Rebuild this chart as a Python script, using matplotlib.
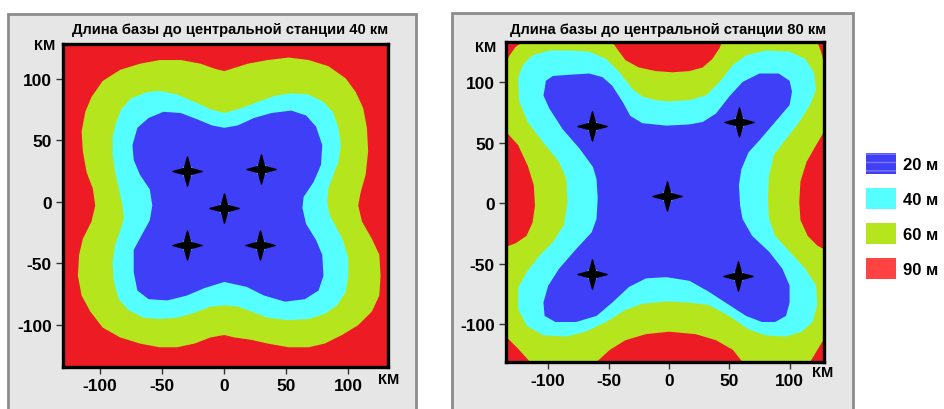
import numpy as np
import matplotlib
matplotlib.use("Agg")
import matplotlib.pyplot as plt
from matplotlib.patches import Rectangle, Patch
from matplotlib.path import Path

plt.rcParams['font.family'] = ['Liberation Sans', 'DejaVu Sans']
plt.rcParams['axes.unicode_minus'] = False

# zone colours and legend labels
zone_labels = ['20 м', '40 м', '60 м', '90 м']
zone_colors = ['#3f3ff8', '#55ffff', '#b5e61d', '#ed1c24']
legend_colors = ['#3f3ff8', '#55ffff', '#b5e61d', '#ff4343']

titles = ['Длина базы до центральной станции 40 км',
          'Длина базы до центральной станции 80 км']
ticks = [-100, -50, 0, 50, 100]

# --- panel 1 (base 40 km): stations and zone boundaries, km ---
p1_st_x = [-30, 30, 0, -30, 29]
p1_st_y = [25, 27, -5, -35, -35]

p1_green = [(0, 106), (19, 112), (35, 115), (52, 117), (68, 115), (84, 110), (98, 100), (106, 89),
            (112, 76), (115, 60), (116, 41), (114, 22), (110, 8), (108, -3), (111, -16), (119, -30),
            (125, -43), (126, -60), (125, -76), (119, -89), (108, -100), (95, -108), (81, -115),
            (68, -118), (52, -118), (35, -115), (22, -112), (8, -110), (0, -108), (-11, -110),
            (-24, -115), (-38, -118), (-52, -118), (-68, -115), (-84, -110), (-98, -102),
            (-108, -89), (-115, -76), (-118, -60), (-117, -43), (-114, -30), (-107, -16),
            (-104, -3), (-106, 11), (-111, 24), (-114, 41), (-115, 57), (-112, 73), (-107, 85),
            (-98, 98), (-84, 107), (-68, 112), (-52, 115), (-35, 115), (-19, 112), (-8, 108)]

p1_cyan = [(-88, 62), (-83, 75), (-75, 84), (-62, 89), (-52, 90), (-38, 87), (-24, 81), (-11, 75),
           (0, 72), (14, 76), (27, 81), (41, 86), (54, 88), (68, 87), (80, 81), (88, 72), (92, 60),
           (94, 46), (92, 32), (88, 22), (84, 11), (83, 0), (85, -11), (91, -22), (96, -32),
           (100, -46), (100, -60), (98, -73), (91, -84), (81, -91), (68, -95), (52, -96), (35, -94),
           (22, -89), (11, -85), (0, -84), (-11, -85), (-24, -90), (-38, -94), (-52, -95),
           (-65, -94), (-77, -88), (-85, -79), (-89, -65), (-90, -49), (-88, -35), (-84, -24),
           (-81, -14), (-82, -3), (-85, 11), (-88, 24), (-90, 38), (-90, 52)]

p1_blue = [(-74, 46), (-70, 60), (-61, 68), (-49, 73), (-35, 72), (-22, 67), (-10, 62), (0, 60),
           (11, 62), (24, 68), (38, 72), (54, 74), (66, 70), (74, 61), (79, 46), (78, 30), (72, 16),
           (64, 4), (63, -5), (66, -18), (74, -31), (79, -43), (80, -60), (76, -72), (65, -79),
           (49, -81), (32, -76), (18, -69), (0, -65), (-16, -70), (-30, -76), (-46, -80),
           (-61, -79), (-70, -72), (-73, -57), (-73, -39), (-66, -26), (-60, -15), (-58, -3),
           (-60, 10), (-68, 22), (-73, 34)]

# --- panel 2 (base 80 km) ---
p2_st_x = [-64, 58, -2, -64, 57]
p2_st_y = [64, 67, 6, -58, -60]

# green zone runs out past the frame where it touches the edges
p2_green = [(-135, 116), (-132, 122), (-127, 129), (-121, 133), (-121, 160), (-47, 160),
            (-47, 133), (-42, 126), (-36, 118), (-25, 112), (-11, 109), (3, 108), (17, 109),
            (28, 112), (36, 119), (42, 128), (44, 133), (44, 160), (123, 160),
            (123, 133), (126, 125), (128.5, 116), (160, 116), (160, 59),
            (128.5, 59), (122, 48), (114, 34), (109, 18), (108, 1), (109, -14), (115, -27),
            (123, -35), (128.5, -38), (160, -38), (160, -112),
            (128.5, -112), (123, -121), (117, -131), (117, -160), (61, -160),
            (61, -131), (53, -121), (39, -113), (22, -108), (0, -106), (-19, -108), (-36, -113),
            (-49, -121), (-60, -131), (-60, -160), (-115, -160),
            (-115, -131), (-125, -120), (-135, -110), (-160, -110), (-160, -36),
            (-135, -36), (-127, -33), (-118, -27), (-113, -16), (-111, -2), (-112, 15),
            (-117, 31), (-125, 48), (-135, 59), (-160, 59), (-160, 116)]

p2_cyan = [(-125, 103), (-121, 114), (-113, 122), (-99, 126), (-82, 126), (-66, 125), (-52, 119),
           (-41, 108), (-30, 94), (-22, 88), (-11, 85), (0, 84), (17, 85), (31, 89), (42, 100),
           (53, 114), (64, 122), (80, 126), (100, 125), (113, 119), (120, 108), (122, 94),
           (117, 81), (108, 67), (97, 53), (87, 40), (83, 23), (82, 4), (83, -13), (88, -27),
           (100, -40), (113, -54), (122, -68), (123, -84), (119, -98), (110, -106), (97, -110),
           (80, -109), (66, -104), (50, -93), (33, -84), (17, -82), (-2, -81), (-22, -83),
           (-36, -88), (-52, -98), (-69, -106), (-85, -110), (-104, -109), (-118, -101),
           (-125, -87), (-125, -70), (-118, -57), (-107, -43), (-96, -32), (-87, -18), (-84, 1),
           (-85, 20), (-91, 34), (-104, 50), (-117, 67), (-124, 84)]

p2_blue = [(-103, 94), (-102, 101), (-96, 105), (-82, 106), (-66, 107), (-55, 104), (-47, 97),
           (-38, 83), (-32, 72), (-22, 66), (-2, 64), (17, 65), (28, 67), (39, 74), (50, 88),
           (61, 100), (75, 107), (91, 107), (100, 101), (102, 92), (100, 81), (88, 67), (76, 53),
           (66, 42), (60, 28), (58, 15), (59, -2), (61, -13), (69, -27), (83, -40), (94, -54),
           (100, -68), (100, -82), (97, -93), (88, -98), (77, -98), (64, -93), (50, -84),
           (33, -73), (17, -64), (-2, -61), (-19, -62), (-33, -69), (-47, -82), (-60, -93),
           (-77, -98), (-94, -98), (-103, -93), (-104, -82), (-100, -68), (-91, -54), (-77, -38),
           (-64, -24), (-60, -13), (-59, 4), (-60, 20), (-63, 30), (-74, 45), (-88, 61),
           (-99, 78), (-104, 89)]

# four-pointed star used for the stations
ang = np.arange(8) * np.pi / 4
rad = np.where(np.arange(8) % 2 == 0, 1.0, 0.3)
star = Path(np.column_stack([rad * np.cos(ang), rad * np.sin(ang)]).tolist() + [[1, 0]], closed=True)

W, H = 944, 410
fig = plt.figure(figsize=(W / 100, H / 100), dpi=100)

# grey panel frames
for x0, x1, top in [(8, 416, 15), (452, 853, 14)]:
    fig.add_artist(Rectangle((x0 / W, -0.1), (x1 - x0) / W, 1.1 - top / H,
                             transform=fig.transFigure, facecolor='#e6e6e6',
                             edgecolor='#8c8c8c', lw=2, zorder=-5))

panels = [
    dict(box=(63, 388, 45, 368), xlim=(-130, 132), ylim=(-134, 128),
         zones=[p1_green, p1_cyan, p1_blue], sx=p1_st_x, sy=p1_st_y,
         title_x=230, km_top=(45, 46), km_bot=(389, 380)),
    dict(box=(506, 824, 43, 363), xlim=(-135, 128.5), ylim=(-131, 133),
         zones=[p2_green, p2_cyan, p2_blue], sx=p2_st_x, sy=p2_st_y,
         title_x=668, km_top=(486, 48), km_bot=(823, 373)),
]

for i, p in enumerate(panels):
    l, r, t, b = p['box']
    ax = fig.add_axes([l / W, 1 - b / H, (r - l) / W, (b - t) / H])
    ax.set_facecolor(zone_colors[3])
    for poly, col in zip(p['zones'], zone_colors[2::-1]):
        xy = np.array(poly, dtype=float)
        ax.fill(xy[:, 0], xy[:, 1], color=col, lw=0)
    ax.plot(p['sx'], p['sy'], ls='none', marker='o', ms=8, color='#2fb8d8', zorder=3)
    ax.plot(p['sx'], p['sy'], ls='none', marker=star, ms=21, color='black', zorder=4)
    ax.set_xlim(p['xlim'])
    ax.set_ylim(p['ylim'])
    ax.set_xticks(ticks)
    ax.set_yticks(ticks)
    ax.tick_params(direction='out', length=5, width=1, color='#333333', pad=3,
                   labelsize=12.5)
    for lab in ax.get_xticklabels() + ax.get_yticklabels():
        lab.set_fontweight('bold')
    for s in ax.spines.values():
        s.set_linewidth(2.4)
        s.set_color('black')
    fig.text(p['title_x'] / W, 1 - 30 / H, titles[i], ha='center', va='center',
             fontsize=10.6, fontweight='bold')
    fig.text(p['km_top'][0] / W, 1 - p['km_top'][1] / H, 'КМ', ha='center', va='center',
             fontsize=10.5, fontweight='bold')
    fig.text(p['km_bot'][0] / W, 1 - p['km_bot'][1] / H, 'КМ', ha='center', va='center',
             fontsize=10.5, fontweight='bold')

handles = []
for lab, col in zip(zone_labels, legend_colors):
    if lab == zone_labels[0]:
        handles.append(Patch(facecolor=col, edgecolor='#7a7aff', lw=0, hatch='--', label=lab))
    else:
        handles.append(Patch(facecolor=col, lw=0, label=lab))
fig.legend(handles=handles, loc='upper left', bbox_to_anchor=(866 / W, 1 - 154 / H),
           frameon=False, borderpad=0, borderaxespad=0, handlelength=1.8,
           handleheight=1.55, handletextpad=0.4, labelspacing=0.85,
           prop={'size': 12, 'weight': 'bold'})

fig.savefig('out.png', dpi=100)
